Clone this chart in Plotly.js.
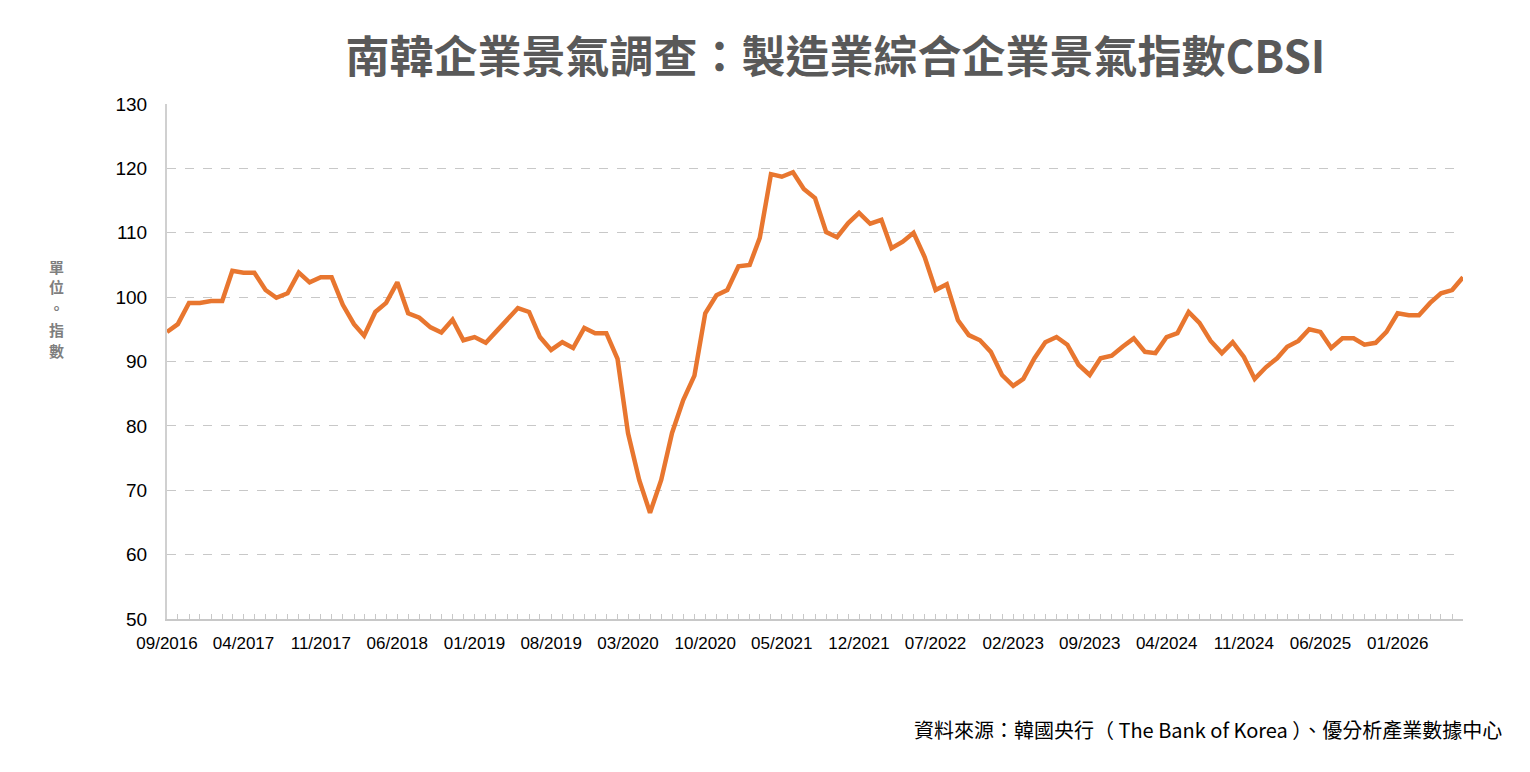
<!DOCTYPE html>
<html>
<head>
<meta charset="utf-8">
<script src="https://cdn.plot.ly/plotly-3.0.1.min.js"></script>
<style>
html,body{margin:0;padding:0;background:#fff;}
#chart{width:1530px;height:772px;}
</style>
</head>
<body>
<div id="chart"></div>
<script>
// Monthly periods 09/2016 .. 07/2026
const months = [
  "2016-09","2016-10","2016-11","2016-12",
  "2017-01","2017-02","2017-03","2017-04","2017-05","2017-06","2017-07","2017-08","2017-09","2017-10","2017-11","2017-12",
  "2018-01","2018-02","2018-03","2018-04","2018-05","2018-06","2018-07","2018-08","2018-09","2018-10","2018-11","2018-12",
  "2019-01","2019-02","2019-03","2019-04","2019-05","2019-06","2019-07","2019-08","2019-09","2019-10","2019-11","2019-12",
  "2020-01","2020-02","2020-03","2020-04","2020-05","2020-06","2020-07","2020-08","2020-09","2020-10","2020-11","2020-12",
  "2021-01","2021-02","2021-03","2021-04","2021-05","2021-06","2021-07","2021-08","2021-09","2021-10","2021-11","2021-12",
  "2022-01","2022-02","2022-03","2022-04","2022-05","2022-06","2022-07","2022-08","2022-09","2022-10","2022-11","2022-12",
  "2023-01","2023-02","2023-03","2023-04","2023-05","2023-06","2023-07","2023-08","2023-09","2023-10","2023-11","2023-12",
  "2024-01","2024-02","2024-03","2024-04","2024-05","2024-06","2024-07","2024-08","2024-09","2024-10","2024-11","2024-12",
  "2025-01","2025-02","2025-03","2025-04","2025-05","2025-06","2025-07","2025-08","2025-09","2025-10","2025-11","2025-12",
  "2026-01","2026-02","2026-03","2026-04","2026-05","2026-06","2026-07"
];

// Manufacturing composite business sentiment index (CBSI)
const cbsi = [
  94.6, 95.8, 99.1, 99.1,
  99.4, 99.4, 104.1, 103.8, 103.8, 101.1, 99.9, 100.6, 103.8, 102.3, 103.1, 103.1,
  98.8, 95.8, 94.0, 97.7, 99.1, 102.3, 97.5, 96.8, 95.3, 94.5, 96.5, 93.3,
  93.8, 92.9, 94.6, 96.4, 98.3, 97.7, 93.8, 91.8, 93.0, 92.1, 95.2, 94.4,
  94.4, 90.4, 78.9, 71.6, 66.5, 71.6, 78.9, 84.0, 87.8, 97.5, 100.3, 101.1,
  104.8, 105.0, 109.2, 119.1, 118.7, 119.4, 116.8, 115.4, 110.1, 109.3, 111.5, 113.1,
  111.4, 112.0, 107.6, 108.6, 110.0, 106.2, 101.1, 102.0, 96.4, 94.1, 93.3, 91.5,
  87.9, 86.2, 87.3, 90.5, 93.0, 93.8, 92.6, 89.5, 87.9, 90.5, 90.9, 92.3,
  93.6, 91.5, 91.3, 93.8, 94.4, 97.7, 96.0, 93.2, 91.3, 93.0, 90.7, 87.3,
  89.1, 90.5, 92.3, 93.2, 95.0, 94.6, 92.1, 93.6, 93.6, 92.6, 92.9, 94.6,
  97.5, 97.2, 97.2, 99.1, 100.6, 101.1, 103.1
];

const yTicks = [50, 60, 70, 80, 90, 100, 110, 120, 130];

const titleText = "南韓企業景氣調查：製造業綜合企業景氣指數CBSI";
const yTitleChars = ["單", "位", "。", "指", "數"];
const sourceText = "資料來源：韓國央行（ The Bank of Korea ）、優分析產業數據中心";

// x tick labels every 7 months
const tickIdx = [];
for (let i = 0; i < months.length; i += 7) tickIdx.push(i);
const tickVals = tickIdx.map(i => months[i] + "-01");
const tickText = tickIdx.map(i => months[i].slice(5) + "/" + months[i].slice(0, 4));

const trace = {
  x: months.map(m => m + "-01"),
  y: cbsi,
  type: "scatter",
  mode: "lines",
  line: {color: "#E8762F", width: 4.5},
  hoverinfo: "x+y"
};

// vertical stacked y-axis title, one annotation per character
const yTitlePos = [0.6854, 0.6447, 0.6039, 0.5631, 0.5223];
const yTitleAnn = yTitleChars.map((c, i) => ({
  text: "<b>" + c + "</b>",
  xref: "paper", yref: "paper",
  x: -0.085, y: yTitlePos[i],
  xanchor: "center", yanchor: "middle",
  showarrow: false,
  borderpad: 0,
  font: {family: "'Noto Sans CJK TC', sans-serif", size: 15, color: "#7f7f7f"}
}));

const layout = {
  width: 1530,
  height: 772,
  paper_bgcolor: "#ffffff",
  plot_bgcolor: "#ffffff",
  margin: {l: 167, r: 67, t: 104, b: 153},
  showlegend: false,
  font: {family: "'Liberation Sans', 'Noto Sans CJK TC', Arial, sans-serif", color: "#000"},
  title: {
    text: "<b>" + titleText + "</b>",
    font: {family: "'Noto Sans CJK TC', 'Liberation Sans', sans-serif", size: 44, color: "#595959"},
    x: 0.546, xanchor: "center",
    y: 0.926, yanchor: "middle"
  },
  xaxis: {
    type: "date",
    range: [months[0] + "-01", months[months.length - 1] + "-01"],
    tickvals: tickVals,
    ticktext: tickText,
    tickangle: 0,
    tickfont: {size: 17, color: "#000", family: "'Liberation Sans', Arial, sans-serif"},
    ticks: "inside",
    ticklen: 5,
    tickcolor: "#c8c8c8",
    tickwidth: 1,
    ticklabelstandoff: 8,
    minor: {ticks: "inside", ticklen: 5, tickcolor: "#c8c8c8", tickwidth: 1, dtick: "M1", tick0: months[0] + "-01", showgrid: false},
    showgrid: false,
    showline: true,
    linecolor: "#c8c8c8",
    linewidth: 1.5,
    zeroline: false,
    fixedrange: true
  },
  yaxis: {
    range: [50, 130],
    tickvals: yTicks,
    ticktext: yTicks.map(String),
    tickfont: {size: 19, color: "#000", family: "'Liberation Sans', Arial, sans-serif"},
    ticks: "",
    ticklabelstandoff: 14,
    showgrid: true,
    gridcolor: "#c8c8c8",
    griddash: "dash",
    gridwidth: 1,
    showline: true,
    linecolor: "#d0d0d0",
    linewidth: 2,
    zeroline: false,
    fixedrange: true
  },
  annotations: yTitleAnn.concat([
    {
      text: sourceText,
      xref: "paper", yref: "paper",
      x: 1.032, y: -0.215,
      xanchor: "right", yanchor: "middle",
      showarrow: false,
      font: {family: "'Noto Sans CJK TC', sans-serif", size: 20, color: "#000"}
    }
  ])
};

Plotly.newPlot("chart", [trace], layout, {displayModeBar: false, staticPlot: true});
</script>
</body>
</html>
